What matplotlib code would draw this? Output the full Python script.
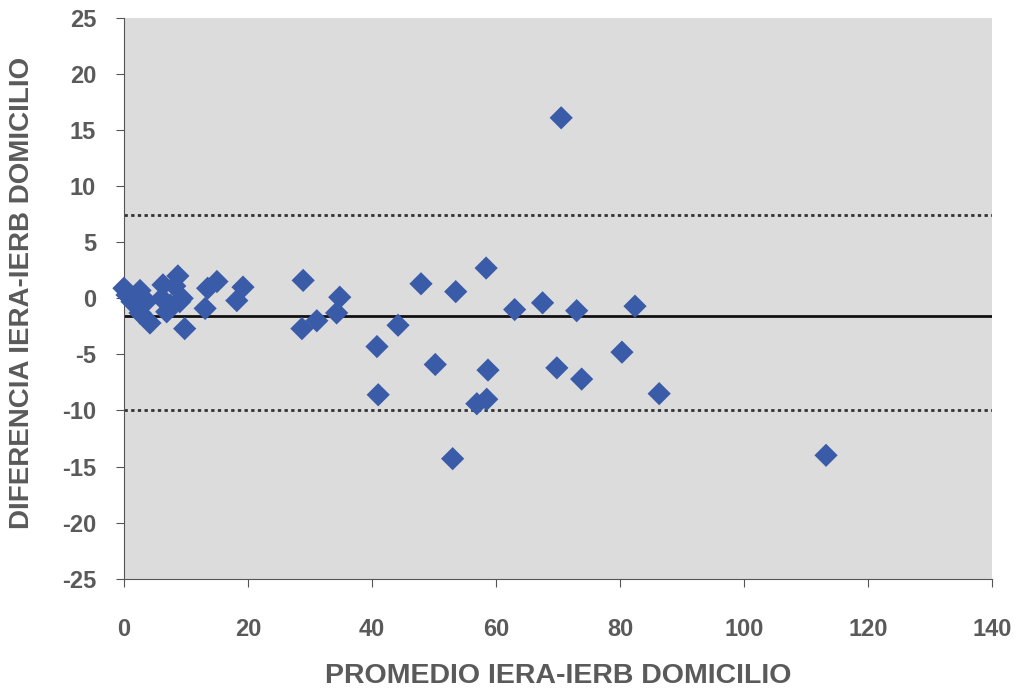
import matplotlib.pyplot as plt

plt.rcParams['axes.unicode_minus'] = False
plt.rcParams['font.family'] = ['Liberation Sans', 'DejaVu Sans']
plt.rcParams['font.weight'] = 'bold'

# 데이터: 평균 (x) 과 차이 (y)
promedio = [0.0, 0.5, 1.3, 2.6, 2.6, 3.0, 3.4, 4.2, 6.1, 6.3, 6.9, 7.5, 8.2,
            8.7, 9.0, 9.4, 9.8, 13.1, 13.5, 15.0, 18.2, 19.2,
            28.7, 28.9, 31.1, 34.3, 34.8, 40.8, 41.0, 44.2, 47.9, 50.2,
            53.0, 53.5, 56.9, 58.4, 58.5, 58.7, 63.0, 67.5, 69.8, 70.5,
            73.0, 73.8, 80.3, 82.4, 86.3, 113.2]
diferencia = [0.9, 0.3, -0.3, 0.7, -1.3, 0.1, -0.4, -2.2, 0.0, 1.2, -1.2, -0.6, 1.1,
              2.0, -0.3, 0.0, -2.7, -0.9, 0.9, 1.5, -0.2, 1.0,
              -2.7, 1.6, -2.0, -1.3, 0.1, -4.3, -8.6, -2.4, 1.3, -5.9,
              -14.3, 0.6, -9.4, 2.7, -9.0, -6.4, -1.0, -0.4, -6.2, 16.1,
              -1.1, -7.2, -4.8, -0.7, -8.5, -14.0]

media = -1.6
lim_sup = 7.4
lim_inf = -10.0

gris = '#5a5a5a'

fig = plt.figure(figsize=(10.24, 6.93), dpi=100)
ax = fig.add_axes([0.121, 0.165, 0.848, 0.809])
ax.set_facecolor('#dcdcdc')

ax.axhline(media, color='#111111', lw=2)
ax.axhline(lim_sup, color='#333333', lw=2, linestyle=(0, (1.2, 1.2)))
ax.axhline(lim_inf, color='#333333', lw=2, linestyle=(0, (1.2, 1.2)))

ax.scatter(promedio, diferencia, marker='D', s=140, color='#3a5ba8',
           edgecolors='none', zorder=3, clip_on=False)

ax.set_xlim(0, 140)
ax.set_ylim(-25, 25)
ax.set_xticks(range(0, 141, 20))
ax.set_yticks(range(-25, 26, 5))

for s in ['top', 'right']:
    ax.spines[s].set_visible(False)
for s in ['left', 'bottom']:
    ax.spines[s].set_color('#555555')
ax.tick_params(axis='y', direction='out', length=6, color='#555555',
               labelsize=17, labelcolor=gris, pad=14)
ax.tick_params(axis='x', direction='out', length=6, color='#555555',
               labelsize=17, labelcolor=gris, pad=22)

ax.set_xlabel('PROMEDIO IERA-IERB DOMICILIO', fontsize=20.5, fontweight='bold',
              color=gris, labelpad=16)
ax.set_ylabel('DIFERENCIA IERA-IERB DOMICILIO', fontsize=20, fontweight='bold',
              color=gris)
ax.yaxis.set_label_coords(-0.1025, 0.51)

fig.savefig('out.png', dpi=100, facecolor='white')
